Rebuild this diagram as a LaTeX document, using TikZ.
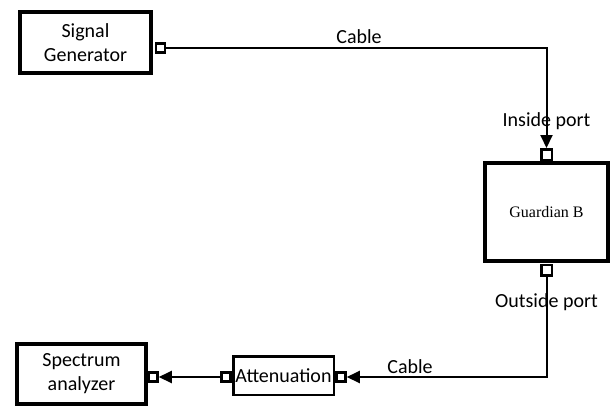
\documentclass[tikz,border=0pt]{standalone}
\usepackage{fontspec}
\setmainfont{Carlito}
\newfontfamily\serifface{Liberation Serif}
\usetikzlibrary{arrows.meta}

\begin{document}
\begin{tikzpicture}[x=1pt, y=-1pt, >={Triangle[length=13pt,width=12pt]},
    unit/.style={draw, line width=4pt, align=center, inner sep=0pt,
      font=\fontsize{20}{24}\selectfont},
    port/.style={draw, line width=2.5pt, fill=white, minimum size=9pt, inner sep=0pt},
    wire/.style={line width=2pt},
    lbl/.style={font=\fontsize{20}{24}\selectfont, anchor=base, inner sep=0pt}]
    \useasboundingbox (0,0) rectangle (613,410);

    % units
    \node[unit, minimum width=131pt, minimum height=61pt] (gen) at (85.5,42.5) {Signal\\Generator};
    \node[unit, minimum width=123pt, minimum height=98pt,
      font=\serifface\fontsize{16}{19}\selectfont] (guard) at (546.5,212) {Guardian B};
    \node[unit, minimum width=129pt, minimum height=60pt] (spec) at (81.5,374) {Spectrum\\analyzer};
    \node[unit, line width=2.5pt, minimum width=100.5pt, minimum height=38.5pt] (att) at (283.5,375.5) {Attenuation};

    % ports
    \node[port] (genport) at (160.5,48) {};
    \node[port, minimum size=10.5pt] (inport) at (546.5,154.5) {};
    \node[port, minimum size=10.5pt] (outport) at (546.5,270) {};
    \node[port] (specport) at (153,377) {};
    \node[port] (attin) at (226,377) {};
    \node[port] (attout) at (341,377) {};

    % cables
    \draw[wire, ->] (genport.east) -| (inport.north);
    \draw[wire, ->] (outport.south) |- (attout.east);
    \draw[wire, ->] (attin.west) -- (specport.east);

    % labels
    \node[lbl] (cabletop) at (359,43) {Cable};
    \node[lbl] (cablebot) at (410,373) {Cable};
    \node[lbl] (inlbl) at (546.5,126) {Inside port};
    \node[lbl] (outlbl) at (546.5,307) {Outside port};
\end{tikzpicture}
\end{document}
